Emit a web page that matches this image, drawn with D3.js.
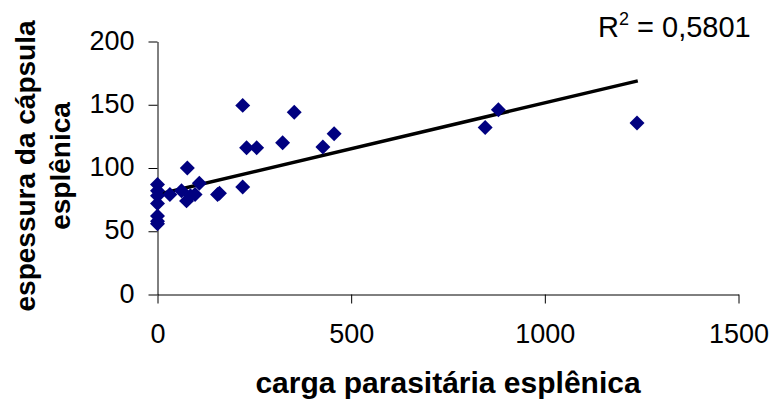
<!DOCTYPE html>
<html>
<head>
<meta charset="utf-8">
<script src="https://cdn.jsdelivr.net/npm/d3@7"></script>
<style>
  html, body { margin: 0; padding: 0; background: #fff; }
  svg { display: block; font-family: "Liberation Sans", Arial, sans-serif; }
</style>
</head>
<body>
<svg id="chart" width="774" height="403"></svg>
<script>
// ---- data ----
const cargaParasitaria = [0, 0, 0, 0, 0, 0, 0, 32, 62, 75, 85, 97, 108, 77, 155, 160, 220, 220, 230, 256, 323, 353, 427, 456, 846, 880, 1238];
const espessuraCapsula = [87, 82, 78, 72, 62, 58, 56, 79, 82, 74, 78, 79, 88, 100, 79, 80, 85, 149.5, 116, 116, 120, 144, 116.6, 127, 132, 146, 135.5];
const xTicks = [0, 500, 1000, 1500];
const yTicks = [0, 50, 100, 150, 200];
const trendIntercept = 79;
const trendSlope = 0.0725;
const trendRange = [0, 1240];
const r2Label = "0,5801";
const xTitle = "carga parasitária esplênica";
const yTitleLines = ["espessura da cápsula", "esplênica"];

const points = cargaParasitaria.map((x, i) => ({ x, y: espessuraCapsula[i] }));

const svg = d3.select("#chart");
const x = d3.scaleLinear().domain([0, 1500]).range([157.5, 738.5]);
const y = d3.scaleLinear().domain([0, 200]).range([294.5, 41.5]);

// axes
const xAxis = d3.axisBottom(x).tickValues(xTicks).tickSize(9).tickSizeOuter(0).tickPadding(20)
  .tickFormat(d3.format("d"));
const yAxis = d3.axisLeft(y).tickValues(yTicks).tickSize(9).tickSizeOuter(0).tickPadding(14)
  .tickFormat(d3.format("d"));

const gx = svg.append("g").attr("transform", `translate(0,${y(0)})`).call(xAxis);
const gy = svg.append("g").attr("transform", `translate(${x(0)},0)`).call(yAxis);
[gx, gy].forEach(g => {
  g.selectAll("path,line").attr("stroke", "#000").attr("stroke-width", 1);
  g.selectAll("text").attr("fill", "#000").style("font-size", "27px")
    .style("font-family", '"Liberation Sans", Arial, sans-serif');
});
gy.selectAll("text").attr("dy", "0.28em");

// trend line
svg.append("line")
  .attr("x1", x(trendRange[0])).attr("y1", y(trendIntercept + trendSlope * trendRange[0]))
  .attr("x2", x(trendRange[1])).attr("y2", y(trendIntercept + trendSlope * trendRange[1]))
  .attr("stroke", "#000").attr("stroke-width", 3.5);

// markers (diamonds)
const diamond = d3.symbol().type(d3.symbolSquare).size(112);
svg.append("g").selectAll("path").data(points).join("path")
  .attr("d", diamond)
  .attr("transform", d => `translate(${x(d.x)},${y(d.y)}) rotate(45)`)
  .attr("fill", "#000080");

// R² label
const r2 = svg.append("text").attr("x", 598).attr("y", 37)
  .style("font-size", "29px").attr("fill", "#000");
r2.append("tspan").text("R");
r2.append("tspan").attr("dy", -12).style("font-size", "18px").text("2");
r2.append("tspan").attr("dy", 12).text(" = " + r2Label);

// x title
svg.append("text").attr("x", 448).attr("y", 393).attr("text-anchor", "middle")
  .style("font-size", "30px").style("font-weight", "bold").attr("fill", "#000")
  .text(xTitle);

// y title (two lines, rotated)
const yt = svg.append("text").attr("transform", "translate(35,166) rotate(-90)")
  .attr("text-anchor", "middle").style("font-size", "28px").style("font-weight", "bold").attr("fill", "#000");
yTitleLines.forEach((t, i) => {
  yt.append("tspan").attr("x", 0).attr("dy", i === 0 ? 0 : 35).text(t);
});
</script>
</body>
</html>
